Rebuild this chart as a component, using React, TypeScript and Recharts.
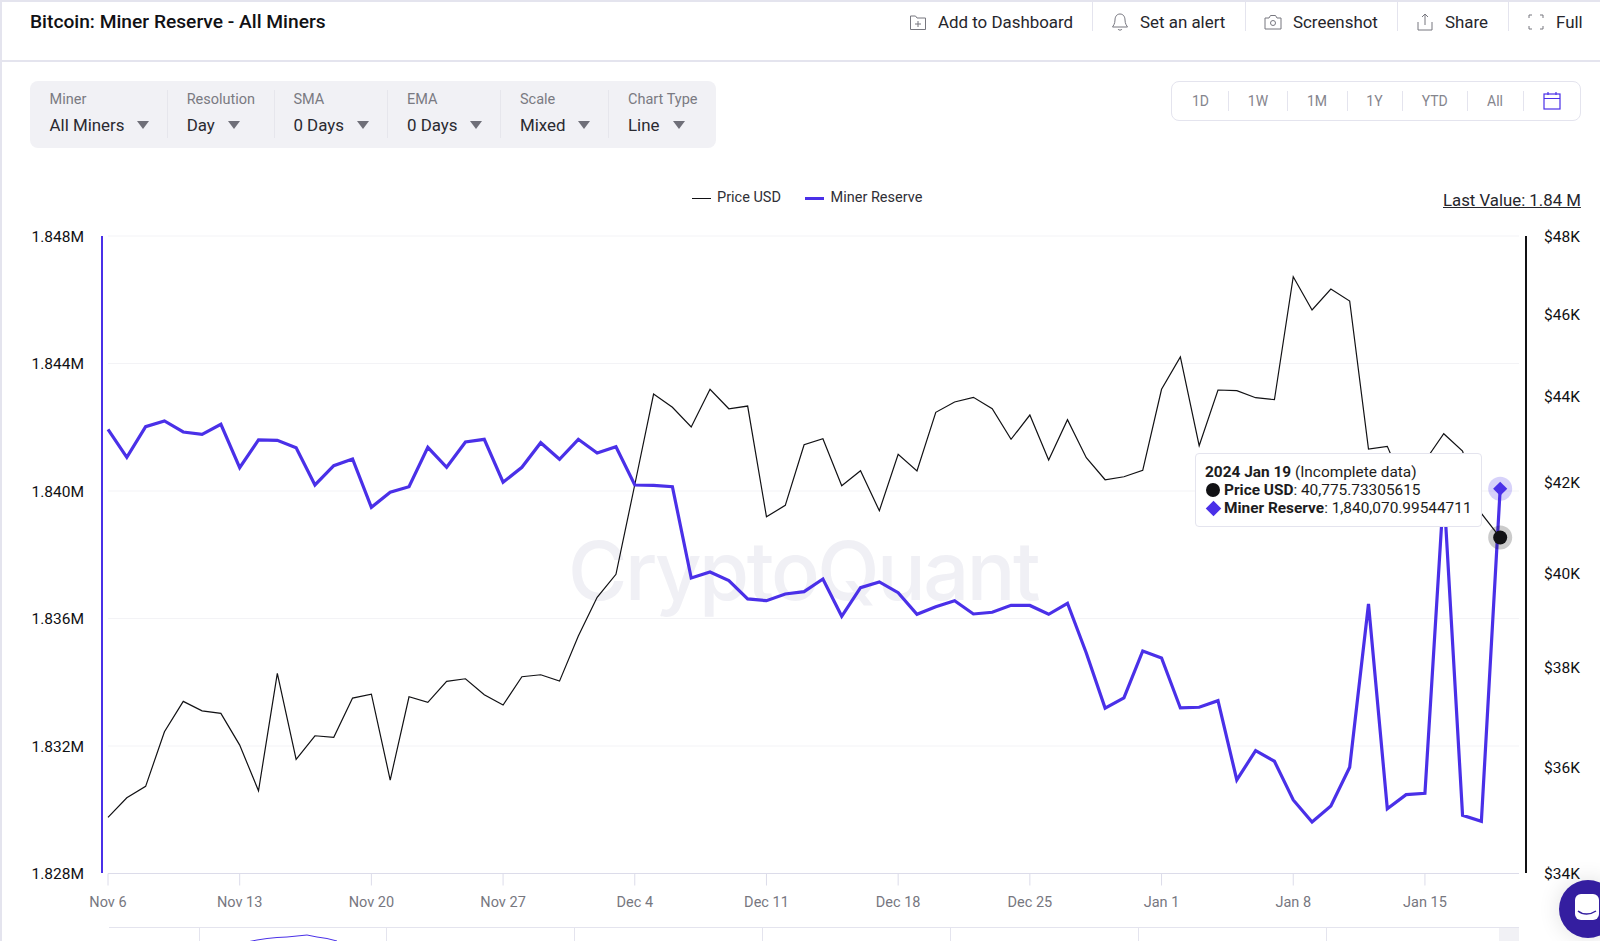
import { CartesianGrid, Legend, Line, LineChart, Tooltip, XAxis, YAxis } from "recharts";

// days since Nov 6 2023, one value per day up to Jan 19 2024
const priceUsd = [
  35048, 35422, 35641, 36709, 37318, 37128, 37076, 36446, 35556, 37887, 36165, 36630, 36598, 37384, 37465,
  35763, 37411, 37297, 37724, 37777, 37451, 37243, 37818, 37859, 37729, 38660, 39478, 39972, 41957, 44067,
  43752, 43288, 44180, 43718, 43782, 41237, 41492, 42875, 43015, 41935, 42277, 41371, 42653, 42269, 43633,
  43877, 43989, 43718, 43001, 43570, 42522, 43459, 42575, 42071, 42139, 42286, 44180, 44959, 42852, 44163,
  44150, 43980, 43932, 46955, 46116, 46644, 46341, 42775, 42838, 41837, 42499, 43131, 42729, 41313, 40775.73305615,
];

const minerReserve = [
  1841936, 1841058, 1842018, 1842197, 1841851, 1841779, 1842093, 1840732, 1841601, 1841590, 1841359, 1840189,
  1840794, 1841004, 1839489, 1839960, 1840135, 1841371, 1840744, 1841538, 1841622, 1840274, 1840744, 1841516,
  1840995, 1841622, 1841193, 1841390, 1840189, 1840179, 1840135, 1837271, 1837460, 1837187, 1836613, 1836559,
  1836770, 1836842, 1837240, 1836070, 1836967, 1837146, 1836810, 1836133, 1836371, 1836559, 1836142, 1836195,
  1836415, 1836410, 1836133, 1836478, 1834918, 1833189, 1833509, 1834982, 1834762, 1833193, 1833215, 1833422,
  1830935, 1831854, 1831521, 1830307, 1829617, 1830119, 1831333, 1836456, 1830034, 1830474, 1830517, 1840032,
  1829827, 1829639, 1840070.99544711,
];

const xTicks = [0, 7, 14, 21, 28, 35, 42, 49, 56, 63, 70];
const xTickLabels = ["Nov 6", "Nov 13", "Nov 20", "Nov 27", "Dec 4", "Dec 11", "Dec 18", "Dec 25", "Jan 1", "Jan 8", "Jan 15"];
const reserveTicks = [1828000, 1832000, 1836000, 1840000, 1844000, 1848000];
const priceTicks = [34000, 36000, 38000, 40000, 42000, 44000, 46000, 48000];

const brushPreview = [3, 5, 6.5, 7.5, 8, 9, 10, 8, 6.5, 4];
const brushTicks = [199, 386, 574, 762, 950, 1138, 1326];

const filters = [
  { label: "Miner", value: "All Miners", x: 49.5, arrow: 143 },
  { label: "Resolution", value: "Day", x: 186.7, arrow: 234 },
  { label: "SMA", value: "0 Days", x: 293.4, arrow: 363 },
  { label: "EMA", value: "0 Days", x: 407, arrow: 476 },
  { label: "Scale", value: "Mixed", x: 520, arrow: 584 },
  { label: "Chart Type", value: "Line", x: 628, arrow: 679 },
];
const filterSeps = [167, 273.5, 387, 500, 608];

const actions = [
  { text: "Add to Dashboard", x: 938, icon: "folder", iconX: 918 },
  { text: "Set an alert", x: 1140, icon: "bell", iconX: 1120 },
  { text: "Screenshot", x: 1293, icon: "camera", iconX: 1273 },
  { text: "Share", x: 1445, icon: "share", iconX: 1425 },
  { text: "Full", x: 1556, icon: "full", iconX: 1536 },
];
const actionSeps = [1092, 1245, 1396.5, 1507.5];

const ranges = [
  { text: "1D", x: 1200.5 },
  { text: "1W", x: 1258 },
  { text: "1M", x: 1317 },
  { text: "1Y", x: 1374.5 },
  { text: "YTD", x: 1434.7 },
  { text: "All", x: 1495 },
];
const rangeSeps = [1227.5, 1287, 1346.5, 1401.5, 1467, 1522.5];

const PURPLE = "#4a30e8";
const INK = "#111114";
const LINE_GREY = "#e4e4ee";

const data = priceUsd.map((price, day) => ({ day, price, reserve: minerReserve[day] }));

function box(left: number, top: number, width: number, height: number, background: string) {
  return { position: "absolute" as const, left, top, width, height, background };
}

function ActionIcon({ name, x }: { name: string; x: number }) {
  const stroke = "#77777f";
  return (
    <svg width={20} height={20} viewBox="0 0 20 20" fill="none" stroke={stroke} strokeWidth={1}
      style={{ position: "absolute", left: x - 10, top: 12 }}>
      {name === "folder" && (
        <>
          <path d="M2.5 4h5l1.5 2h8.5v11.5h-15z" />
          <path d="M10 9v6M7 12h6" />
        </>
      )}
      {name === "bell" && <path d="M10 2c-3.5 0-5 3-5 6 0 4-2 6-2.5 7h15c-.5-1-2.500-3-2.500-7 0-3-1.500-6-5-6zM8 17c.5 1.500 3.500 1.500 4 0" />}
      {name === "camera" && (
        <>
          <path d="M2 6h4l1.500-2.500h5L14 6h4v11H2z" />
          <circle cx={10} cy={11} r={2.5} />
        </>
      )}
      {name === "share" && <path d="M3 10v8h14v-8M10 13V2M7 5l3-3 3 3" />}
      {name === "full" && <path d="M3 6V3h3M14 3h3v3M17 14v3h-3M6 17H3v-3" />}
    </svg>
  );
}

function PageChrome() {
  return (
    <>
      <div style={box(0, 0, 1600, 1.5, LINE_GREY)} />
      <div style={box(0, 0, 1.5, 941, LINE_GREY)} />
      <div style={box(0, 60, 1600, 2, LINE_GREY)} />
      <div style={{ position: "absolute", left: 30, top: 10, fontSize: 19.2, lineHeight: "24px", fontWeight: 500, color: INK, whiteSpace: "nowrap" }}>
        Bitcoin: Miner Reserve - All Miners
      </div>

      {actions.map((a) => (
        <div key={a.text}>
          <ActionIcon name={a.icon} x={a.iconX} />
          <div style={{ position: "absolute", left: a.x, top: 10, fontSize: 16.9, lineHeight: "24px", color: "#26262c", whiteSpace: "nowrap" }}>{a.text}</div>
        </div>
      ))}
      {actionSeps.map((x) => <div key={x} style={box(x, 2, 1, 29, LINE_GREY)} />)}

      <div style={{ ...box(30, 81, 686, 67, "#f1f1f5"), borderRadius: 8 }} />
      {filters.map((f) => (
        <div key={f.label}>
          <div style={{ position: "absolute", left: f.x, top: 90, fontSize: 14.5, lineHeight: "20px", color: "#7a7a82", whiteSpace: "nowrap" }}>{f.label}</div>
          <div style={{ position: "absolute", left: f.x, top: 113, fontSize: 16.9, lineHeight: "24px", color: "#2a2a31", whiteSpace: "nowrap" }}>{f.value}</div>
          <div style={{
            position: "absolute", left: f.arrow - 6, top: 121, width: 0, height: 0,
            borderLeft: "6px solid transparent", borderRight: "6px solid transparent", borderTop: "8px solid #6f6f78",
          }} />
        </div>
      ))}
      {filterSeps.map((x) => <div key={x} style={box(x, 90, 1, 48, "#e6e6ec")} />)}

      <div style={{ position: "absolute", left: 1171, top: 81, width: 410, height: 40, border: `1px solid ${LINE_GREY}`, borderRadius: 8, boxSizing: "border-box" }} />
      {ranges.map((r) => (
        <div key={r.text} style={{ position: "absolute", left: r.x - 30, width: 60, top: 91, textAlign: "center", fontSize: 14, lineHeight: "20px", color: "#85858d" }}>{r.text}</div>
      ))}
      {rangeSeps.map((x) => <div key={x} style={box(x, 91, 1, 20, LINE_GREY)} />)}
      <svg width={20} height={20} viewBox="0 0 20 20" fill="none" stroke={PURPLE} strokeWidth={1.2} style={{ position: "absolute", left: 1541.5, top: 91 }}>
        <rect x={2} y={3} width={16} height={15} />
        <path d="M2 7.500h16M6 1v3M14 1v3" />
      </svg>

      <div style={{ position: "absolute", left: 1443, top: 188, fontSize: 16.8, lineHeight: "24px", color: "#26262c", textDecoration: "underline", whiteSpace: "nowrap" }}>
        Last Value: 1.84 M
      </div>

      <div style={{
        position: "absolute", left: 568, top: 516, fontFamily: "Inter", fontSize: 81, lineHeight: "110px", fontWeight: 500,
        letterSpacing: -2.5, color: "#f0f0f5", whiteSpace: "nowrap",
      }}>
        CryptoQuant
      </div>
    </>
  );
}

function BrushStrip() {
  return (
    <>
      <div style={box(109, 927, 1410, 1, LINE_GREY)} />
      {brushTicks.map((x) => <div key={x} style={box(x, 927, 1, 14, LINE_GREY)} />)}
      <div style={box(1499, 928, 20, 13, "#f1f1f5")} />
      <div style={{ position: "absolute", left: 247, top: 933 }}>
        <LineChart width={90} height={12} data={brushPreview.map((v, i) => ({ i, v }))} margin={{ top: 2, right: 0, bottom: 0, left: 0 }}>
          <YAxis hide domain={[0, 10]} />
          <XAxis hide dataKey="i" />
          <Line dataKey="v" stroke={PURPLE} strokeWidth={1} dot={false} isAnimationActive={false} />
        </LineChart>
      </div>
    </>
  );
}

function ChatBubble() {
  return (
    <div style={{ ...box(1559, 880, 58, 58, "#341ea0"), borderRadius: "50%", boxShadow: "0 0 22px rgba(0,0,0,0.12)" }}>
      <div style={{ ...box(16, 14, 24, 26, "#ffffff"), borderRadius: 6 }} />
      <svg width={20} height={8} style={{ position: "absolute", left: 18, top: 30 }}>
        <path d="M1 1c5 4 12 4 18 0" fill="none" stroke="#341ea0" strokeWidth={1.5} />
      </svg>
    </div>
  );
}

function ChartLegend() {
  return (
    <div style={{ position: "relative", height: 20, fontSize: 14.5, lineHeight: "20px", color: "#2f2f36", fontFamily: "Roboto" }}>
      <div style={box(692, 9.5, 19, 1.5, INK)} />
      <div style={{ position: "absolute", left: 717, whiteSpace: "nowrap" }}>Price USD</div>
      <div style={box(805, 9, 19, 2.5, PURPLE)} />
      <div style={{ position: "absolute", left: 830.5, whiteSpace: "nowrap" }}>Miner Reserve</div>
    </div>
  );
}

function ReadoutBox({ payload }: any) {
  const fmt = (v?: number) => (v ?? 0).toLocaleString("en-US", { maximumFractionDigits: 8 });
  return (
    <div style={{
      width: 287, height: 74, boxSizing: "border-box", padding: "9px 9px 0", background: "#fff", border: `1px solid ${LINE_GREY}`,
      borderRadius: 4, fontFamily: "Roboto", fontSize: 15.4, lineHeight: "18px", color: "#1c1c20", whiteSpace: "nowrap",
    }}>
      <div><b style={{ fontWeight: 700 }}>2024 Jan 19</b> (Incomplete data)</div>
      <div style={{ position: "relative", paddingLeft: 19 }}>
        <span style={{ position: "absolute", left: 1, top: 2, width: 14, height: 14, borderRadius: "50%", background: INK }} />
        <b style={{ fontWeight: 700 }}>Price USD</b>: {fmt(payload?.[0]?.value)}
      </div>
      <div style={{ position: "relative", paddingLeft: 19 }}>
        <span style={{ position: "absolute", left: 2.500, top: 3.500, width: 11, height: 11, background: PURPLE, transform: "rotate(45deg)" }} />
        <b style={{ fontWeight: 700 }}>Miner Reserve</b>: {fmt(payload?.[1]?.value)}
      </div>
    </div>
  );
}

function PriceDot({ cx, cy }: any) {
  return (
    <g>
      <circle cx={cx} cy={cy} r={12} fill="#111114" fillOpacity={0.22} />
      <circle cx={cx} cy={cy} r={7} fill={INK} />
    </g>
  );
}

function ReserveDot({ cx, cy }: any) {
  return (
    <g>
      <circle cx={cx} cy={cy} r={12} fill={PURPLE} fillOpacity={0.22} />
      <rect x={cx - 5} y={cy - 5} width={10} height={10} fill={PURPLE} transform={`rotate(45 ${cx} ${cy})`} />
    </g>
  );
}

export default function App() {
  return (
    <div style={{ position: "fixed", left: 0, top: 0, width: 1600, height: 941, overflow: "hidden", background: "#fff", fontFamily: "Roboto" }}>
      <PageChrome />
      <div style={{ position: "absolute", left: 0, top: 0 }}>
        {/* the legend reserves 20px on top of this margin */}
        <LineChart width={1600} height={941} data={data} margin={{ top: 216, right: 0, bottom: 0, left: 0 }}>
          <CartesianGrid yAxisId="reserve" vertical={false} stroke="#f3f3f6" />
          <XAxis
            dataKey="day"
            type="number"
            domain={[0, 75]}
            ticks={xTicks}
            height={67.5}
            interval={0}
            tickSize={12}
            tickMargin={11}
            tick={{ fill: "#77777f", fontSize: 14.5 }}
            axisLine={{ stroke: "#dcdcea" }}
            tickLine={{ stroke: "#dcdcea" }}
            tickFormatter={(day: number) => xTickLabels[xTicks.indexOf(day)]}
          />
          <YAxis
            yAxisId="reserve"
            width={108}
            domain={[1828000, 1848000]}
            ticks={reserveTicks}
            interval={0}
            axisLine={false}
            tickLine={false}
            tickMargin={18}
            tick={{ fill: INK, fontSize: 15.5 }}
            tickFormatter={(v: number) => `${(v / 1000000).toFixed(3)}M`}
          />
          <YAxis
            yAxisId="price"
            orientation="right"
            width={81}
            scale="log"
            domain={[34000, 48000]}
            allowDataOverflow
            ticks={priceTicks}
            interval={0}
            axisLine={false}
            tickLine={false}
            tickMargin={19}
            tick={{ fill: INK, fontSize: 15.5, textAnchor: "start" }}
            tickFormatter={(v: number) => `$${v / 1000}K`}
          />
          <Legend verticalAlign="top" content={<ChartLegend />} wrapperStyle={{ left: 0, top: 188, width: 1600, height: 20 }} />
          <Tooltip
            defaultIndex={priceUsd.length - 1}
            content={<ReadoutBox />}
            cursor={false}
            position={{ x: 1195, y: 453 }}
            isAnimationActive={false}
            wrapperStyle={{ zIndex: 5 }}
          />
          <Line yAxisId="price" dataKey="price" stroke={INK} strokeWidth={1.2} dot={false} activeDot={<PriceDot />} isAnimationActive={false} />
          <Line yAxisId="reserve" dataKey="reserve" stroke={PURPLE} strokeWidth={3.2} strokeLinejoin="miter" dot={false} activeDot={<ReserveDot />} isAnimationActive={false} />
        </LineChart>
      </div>
      {/* axis rails sit just outside the plot, recharts would draw them on its edge */}
      <div style={box(101, 236, 2, 637, PURPLE)} />
      <div style={box(1524.5, 236, 2, 637, INK)} />
      <BrushStrip />
      <ChatBubble />
    </div>
  );
}
